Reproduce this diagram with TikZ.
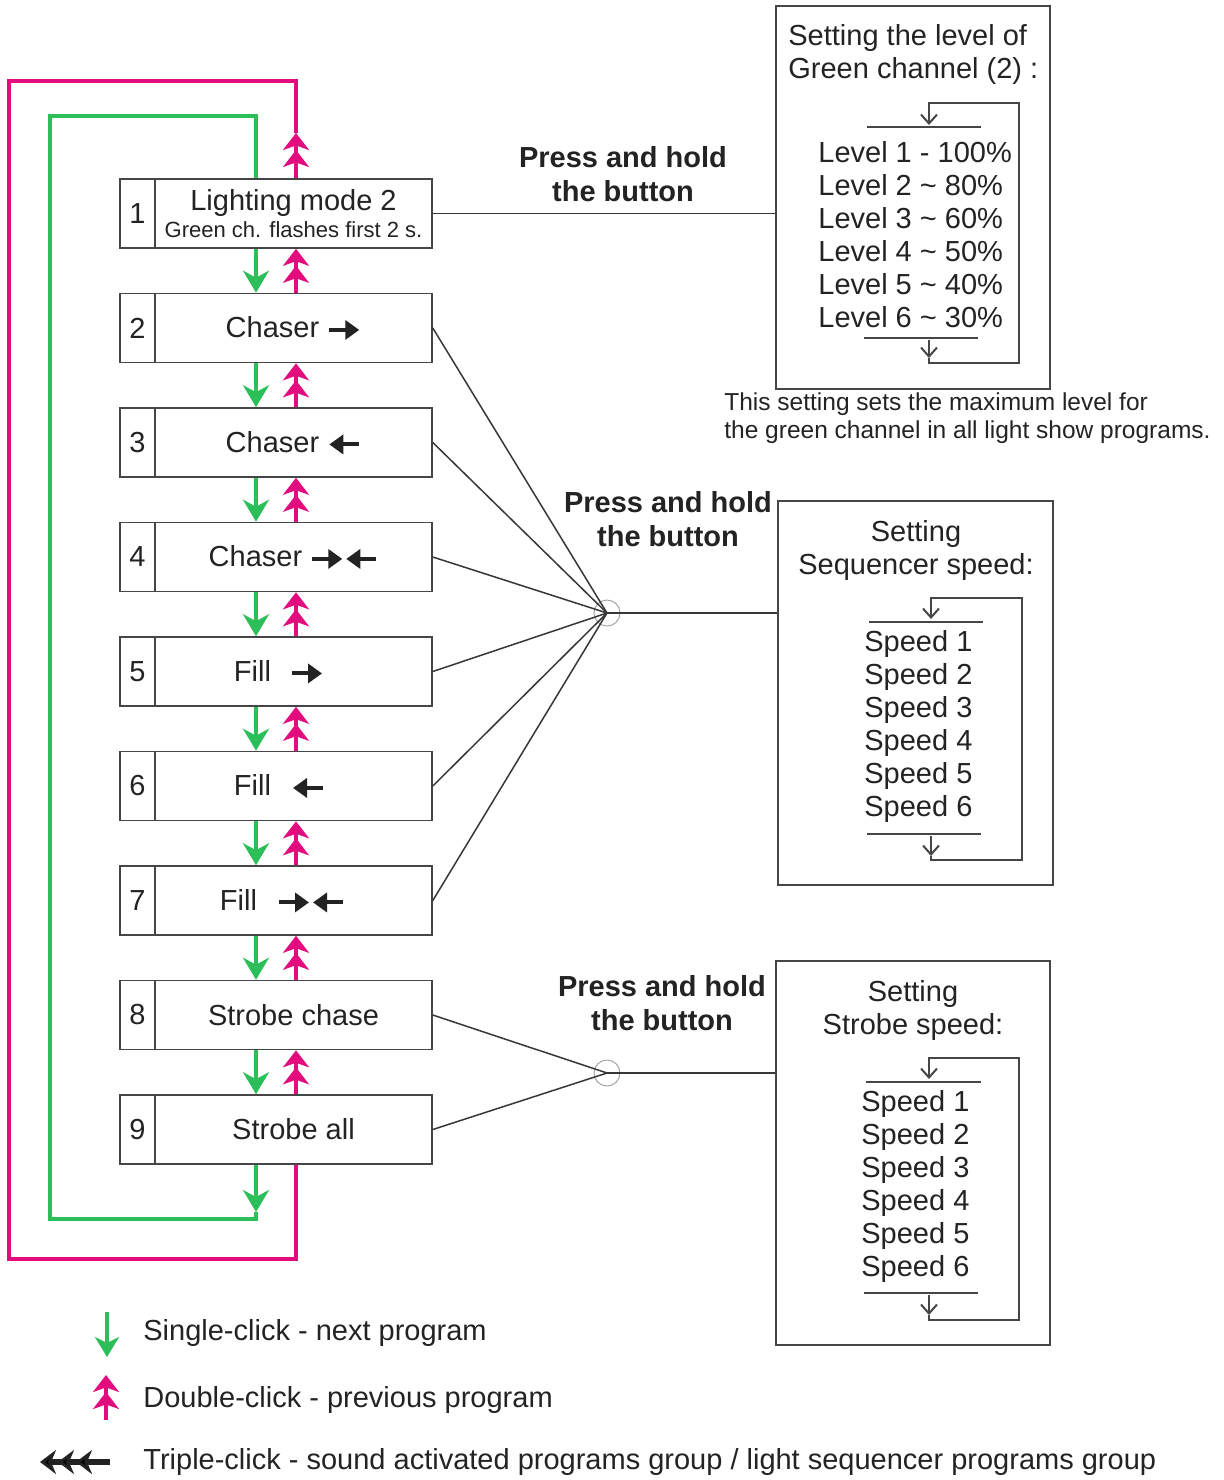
\documentclass[tikz,border=0pt]{standalone}
\usepackage{fontspec}
\setmainfont{Liberation Sans}
\usetikzlibrary{arrows.meta,positioning,calc}

\definecolor{clickgreen}{RGB}{44,190,88}
\definecolor{clickpink}{RGB}{226,12,126}
\definecolor{boxgray}{RGB}{70,70,70}
\definecolor{wiregray}{RGB}{55,55,55}
\definecolor{txtgray}{RGB}{35,35,35}
\definecolor{ringgray}{RGB}{165,165,165}

\newcommand\fsmain{\fontsize{14.5}{16.5}\selectfont}
\newcommand\fssmall{\fontsize{11}{13}\selectfont}
\newcommand\fsnote{\fontsize{12.25}{14}\selectfont}
\newcommand\fsbold{\fontsize{14.5}{17}\selectfont\bfseries}

\tikzset{
  icon/.style={draw=txtgray, line width=2pt, -{Triangle[length=7pt,width=9.5pt]}},
}
% small arrows inside the program boxes
\newcommand\arrR{\tikz[baseline=-0.5ex]\draw[icon] (0pt,0pt) -- (15pt,0pt);}
\newcommand\arrL{\tikz[baseline=-0.5ex]\draw[icon] (15pt,0pt) -- (0pt,0pt);}
\newcommand\arrRL{\tikz[baseline=-0.5ex]{\draw[icon] (0pt,0pt) -- (15pt,0pt); \draw[icon] (32pt,0pt) -- (17pt,0pt);}}

\begin{document}
\begin{tikzpicture}[x=0.5pt,y=-0.5pt,
    prog/.style={draw=boxgray, line width=0.8pt, minimum width=138.5pt, minimum height=34.5pt, inner sep=0pt, font=\fsmain, text=txtgray},
    numcell/.style={prog, minimum width=17.5pt},
    setbox/.style={draw=boxgray, line width=0.7pt, minimum width=137pt, minimum height=192pt, inner sep=0pt},
    hold/.style={font=\fsbold, align=center, text=txtgray, inner sep=0pt},
    plain/.style={font=\fsmain, text=txtgray, inner sep=0pt},
    junc/.style={circle, draw=ringgray, line width=0.5pt, minimum size=13pt, inner sep=0pt},
    wire/.style={draw=wiregray, line width=0.75pt},
    bar/.style={draw=boxgray, line width=1pt},
    cyc/.style={draw=boxgray, line width=1pt, -{Straight Barb[length=4.5pt,width=8pt]}},
    gline/.style={draw=clickgreen, line width=2pt},
    mline/.style={draw=clickpink, line width=2pt},
    gstep/.style={gline, -{Stealth[length=11pt,width=13pt,inset=3.5pt]}},
    mstep/.style={mline, -{Stealth[length=8.5pt,width=13pt,inset=2.3pt,sep=0pt]Stealth[length=8.5pt,width=13pt,inset=2.3pt,sep=0pt]}},
  ]
  \path[use as bounding box, fill=white] (0,0) rectangle (1224,1480);

  % === PROGRAM BOXES ===
  \node[numcell] (n1) at (137.5,213.5) {1};
  \node[prog, align=center] (p1) at (293.5,213.5) {Lighting mode 2\\[-3pt]{\fssmall Green ch. flashes first 2 s.}};
  \foreach \i/\txt in {2/{Chaser~\arrR}, 3/{Chaser~\arrL}, 4/{Chaser~\arrRL},
      5/{Fill\hspace{9.5pt}\arrR\hspace*{14.5pt}}, 6/{Fill\hspace{10pt}\arrL\hspace*{14pt}},
      7/{Fill\hspace{10pt}\arrRL\hspace*{11pt}}, 8/{Strobe chase}, 9/{Strobe all}} {
    \pgfmathsetmacro\cy{213.5+114.5*(\i-1)}
    \node[numcell] (n\i) at (137.5,\cy) {\i};
    \node[prog] (p\i) at (293.5,\cy) {\txt};
  }

  % click arrows between the boxes
  \coordinate (gx) at (256,0);
  \coordinate (mx) at (296,0);
  \foreach \i [evaluate=\i as \j using int(\i+1)] in {1,...,8} {
    \draw[gstep] (p\i.south -| gx) -- (p\j.north -| gx);
    \draw[mstep] (p\j.north -| mx) -- (p\i.south -| mx);
  }

  % loops 9 -> 1 (green) and 1 -> 9 (pink)
  \coordinate (gend) at (256,1212);
  \coordinate (gleft) at (50,1219);
  \coordinate (gtop) at (50,116);
  \draw[gstep] (p9.south -| gx) -- (gend);
  \draw[gline] (gend) |- (gleft) -- (gtop) -| (p1.north -| gx);
  \coordinate (mtip) at (296,133);
  \coordinate (mtop) at (296,81);
  \coordinate (mleft) at (9,1259);
  \draw[mstep] (p1.north -| mx) -- (mtip);
  \draw[mline] (mtip) -- (mtop) -| (mleft) -| (p9.south -| mx);

  % === GREEN LEVEL ===
  \node[setbox, minimum height=191.5pt] (sa) at (913,197.5) {};
  \node[plain, anchor=west, align=left] (sat) at (788,54.5) {Setting the level of\\Green channel (2) :};
  \node[plain, anchor=west, align=left] (sal) at (818,234.5) {Level 1 - 100\%\\Level 2 \~{} 80\%\\Level 3 \~{} 60\%\\Level 4 \~{} 50\%\\Level 5 \~{} 40\%\\Level 6 \~{} 30\%};
  \draw[bar] (867,127) -- (981,127);
  \draw[bar] (864,338) -- (978,338);
  \draw[cyc] (929,340) -- (929,358);
  \draw[cyc] (929,358) |- (1019,363) |- (929,103) -- (929,125);
  \node[font=\fsnote, text=txtgray, inner sep=0pt, anchor=west, align=left] (note) at (724,418)
    {This setting sets the maximum level for\\the green channel in all light show programs.};
  \node[hold] (h1) at (623,174.5) {Press and hold\\the button};
  \draw[wire] (p1.east) -- (p1.east -| sa.west);

  % === SEQUENCER SPEED ===
  \node[setbox, minimum width=137.5pt] (sb) at (915.5,693) {};
  \node[plain, align=center] (sbt) at (916,550.5) {Setting\\Sequencer speed:};
  \node[plain, anchor=west, align=left] (sbl) at (864,726.5) {Speed 1\\Speed 2\\Speed 3\\Speed 4\\Speed 5\\Speed 6};
  \draw[bar] (869,622) -- (983,622);
  \draw[bar] (867,834) -- (981,834);
  \draw[cyc] (931,836) -- (931,856);
  \draw[cyc] (931,856) |- (1022,860) |- (931,598) -- (931,619);
  \node[hold] (h2) at (668,519) {Press and hold\\the button};
  \node[junc] (j1) at (607,613) {};
  \foreach \i in {2,...,7}
    \draw[wire] (p\i.east) -- (j1.center);
  \draw[wire] (j1.center) -- (j1.center -| sb.west);

  % === STROBE SPEED ===
  \node[setbox] (sc) at (913,1153) {};
  \node[plain, align=center] (sct) at (913,1010) {Setting\\Strobe speed:};
  \node[plain, anchor=west, align=left] (scl) at (861,1186.5) {Speed 1\\Speed 2\\Speed 3\\Speed 4\\Speed 5\\Speed 6};
  \draw[bar] (866,1082) -- (981,1082);
  \draw[bar] (864,1293) -- (978,1293);
  \draw[cyc] (929,1295) -- (929,1315);
  \draw[cyc] (929,1315) |- (1019,1320) |- (929,1058) -- (929,1079);
  \node[hold] (h3) at (662,1003.5) {Press and hold\\the button};
  \node[junc] (j2) at (607,1073) {};
  \foreach \i in {8,9}
    \draw[wire] (p\i.east) -- (j2.center);
  \draw[wire] (j2.center) -- (j2.center -| sc.west);

  % Legend
  \coordinate (lg1) at (107,1312);
  \coordinate (lg2) at (107,1357);
  \coordinate (lm1) at (106,1420);
  \coordinate (lm2) at (106,1375);
  \coordinate (lt1) at (110,1462);
  \coordinate (lt2) at (38,1462);
  \draw[gline, line width=1.8pt, -{Stealth[length=10pt,width=12pt,inset=3pt]}] (lg1) -- (lg2);
  \draw[mstep] (lm1) -- (lm2);
  \draw[draw=txtgray, line width=3pt, -{Stealth[length=8pt,width=12pt,inset=2.5pt,sep=1pt]Stealth[length=8pt,width=12pt,inset=2.5pt,sep=1pt]Stealth[length=8pt,width=12pt,inset=2.5pt,sep=1pt]}] (lt1) -- (lt2);
  \node[plain, anchor=west] (lgt) at (143,1333) {Single-click - next program};
  \node[plain, anchor=west] (lmt) at (143,1400) {Double-click - previous program};
  \node[plain, anchor=west] (ltt) at (143,1462) {Triple-click - sound activated programs group / light sequencer programs group};
\end{tikzpicture}
\end{document}
